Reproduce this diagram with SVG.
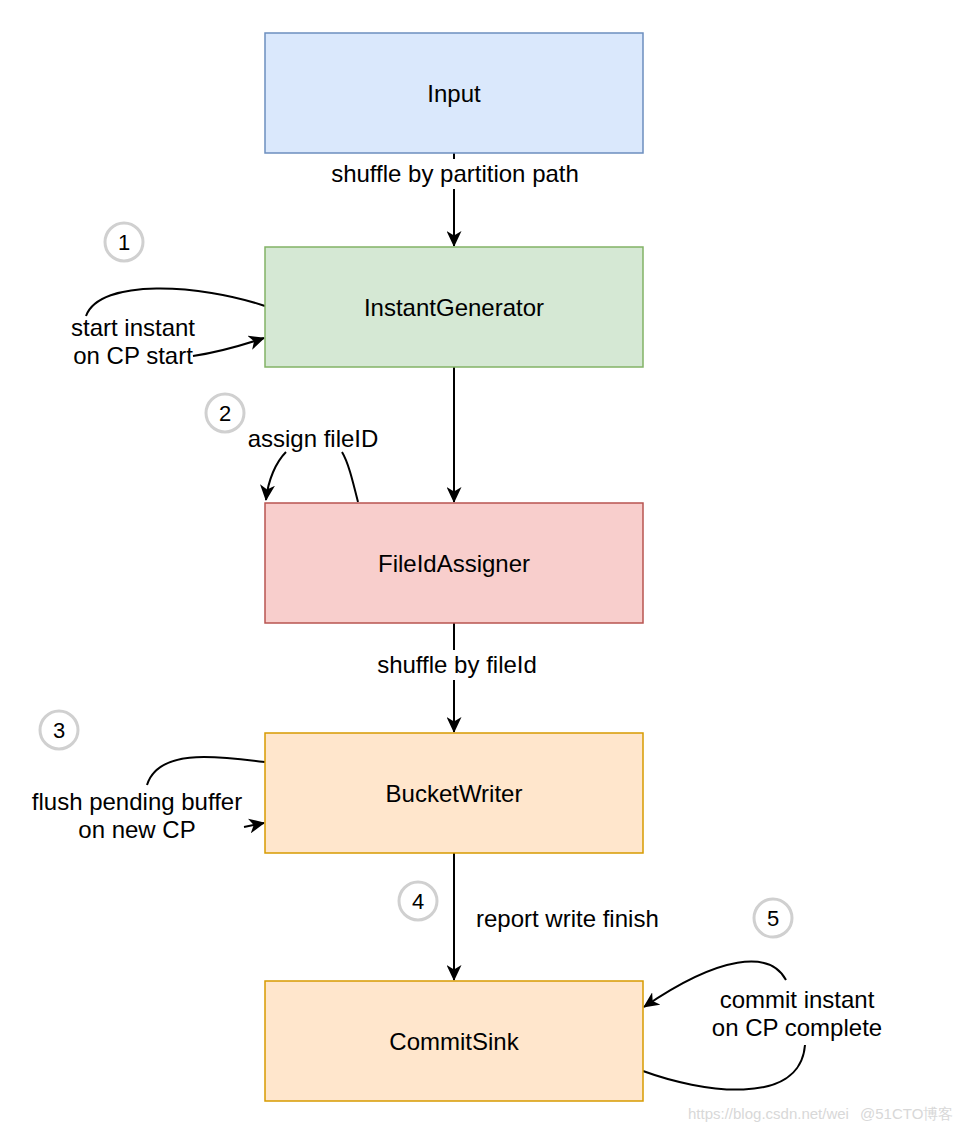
<svg xmlns="http://www.w3.org/2000/svg" width="968" height="1132" viewBox="0 0 968 1132">
<style>
text{font-family:"Liberation Sans",Arial,sans-serif;font-size:24px;fill:#000;}
.c{text-anchor:middle;}
.node rect{stroke-width:1.5;}
.line{fill:none;stroke:#000;stroke-width:2;}
.num circle{fill:#fff;stroke:#d0d0d0;stroke-width:3;}
.num text{font-size:22px;}
.wm{font-size:15px;fill:#d8d8d8;}
</style>
<defs>
<marker id="ah" viewBox="0 0 16 15" refX="15" refY="7.5" markerWidth="16" markerHeight="15" markerUnits="userSpaceOnUse" orient="auto">
<path d="M0,0 L16,7.5 L0,15 L4.5,7.5 Z" fill="#000"/>
</marker>
</defs>
<rect width="968" height="1132" fill="#fff"/>

<g id="connectors">
<path class="line" d="M454,153 L454,246" marker-end="url(#ah)"/>
<path class="line" d="M454,367 L454,502" marker-end="url(#ah)"/>
<path class="line" d="M454,623 L454,732" marker-end="url(#ah)"/>
<path class="line" d="M454,853 L454,980" marker-end="url(#ah)"/>
<path class="line" d="M265,306 C200,284 100,278 86,316"/>
<path class="line" d="M193,356 C220,352 240,346 264,338" marker-end="url(#ah)"/>
<path class="line" d="M358,502 C352,478 348,462 342,452"/>
<path class="line" d="M286,452 C276,462 268,480 266,500" marker-end="url(#ah)"/>
<path class="line" d="M265,762 C210,755 158,750 147,785"/>
<path class="line" d="M244,827 L264,823" marker-end="url(#ah)"/>
<path class="line" d="M786,980 C770,950 720,955 644,1007" marker-end="url(#ah)"/>
<path class="line" d="M643,1071 C700,1092 800,1108 805,1045"/>
</g>

<g id="edge-labels">
<rect x="326" y="159" width="258" height="30" fill="#fff"/>
<text class="c" x="455" y="182">shuffle by partition path</text>
<rect x="372" y="650" width="170" height="30" fill="#fff"/>
<text class="c" x="457" y="673">shuffle by fileId</text>
<text x="476" y="927">report write finish</text>
<text class="c" x="133" y="336">start instant</text>
<text class="c" x="133" y="364">on CP start</text>
<text class="c" x="313" y="447">assign fileID</text>
<text class="c" x="137" y="810">flush pending buffer</text>
<text class="c" x="137" y="838">on new CP</text>
<text class="c" x="797" y="1008">commit instant</text>
<text class="c" x="797" y="1036">on CP complete</text>
</g>

<g id="node-input" class="node">
<rect x="265" y="33" width="378" height="120" fill="#dae8fc" stroke="#6c8ebf"/>
<text class="c" x="454" y="102">Input</text>
</g>
<g id="node-instantgenerator" class="node">
<rect x="265" y="247" width="378" height="120" fill="#d5e8d4" stroke="#82b366"/>
<text class="c" x="454" y="316">InstantGenerator</text>
</g>
<g id="node-fileidassigner" class="node">
<rect x="265" y="503" width="378" height="120" fill="#f8cecc" stroke="#b85450"/>
<text class="c" x="454" y="572">FileIdAssigner</text>
</g>
<g id="node-bucketwriter" class="node">
<rect x="265" y="733" width="378" height="120" fill="#ffe6cc" stroke="#d79b00"/>
<text class="c" x="454" y="802">BucketWriter</text>
</g>
<g id="node-commitsink" class="node">
<rect x="265" y="981" width="378" height="120" fill="#ffe6cc" stroke="#d79b00"/>
<text class="c" x="454" y="1050">CommitSink</text>
</g>

<g id="num-1" class="num"><circle cx="124" cy="242" r="19"/><text class="c" x="124" y="250">1</text></g>
<g id="num-2" class="num"><circle cx="225" cy="413" r="19"/><text class="c" x="225" y="421">2</text></g>
<g id="num-3" class="num"><circle cx="59" cy="730" r="19"/><text class="c" x="59" y="738">3</text></g>
<g id="num-4" class="num"><circle cx="418" cy="901" r="19"/><text class="c" x="418" y="909">4</text></g>
<g id="num-5" class="num"><circle cx="773" cy="918" r="19"/><text class="c" x="773" y="926">5</text></g>

<text class="wm" x="688" y="1119">https://blog.csdn.net/wei</text>
<text class="wm" x="860" y="1119" font-family="'Liberation Sans','Noto Sans CJK SC',sans-serif">@51CTO博客</text>
</svg>
